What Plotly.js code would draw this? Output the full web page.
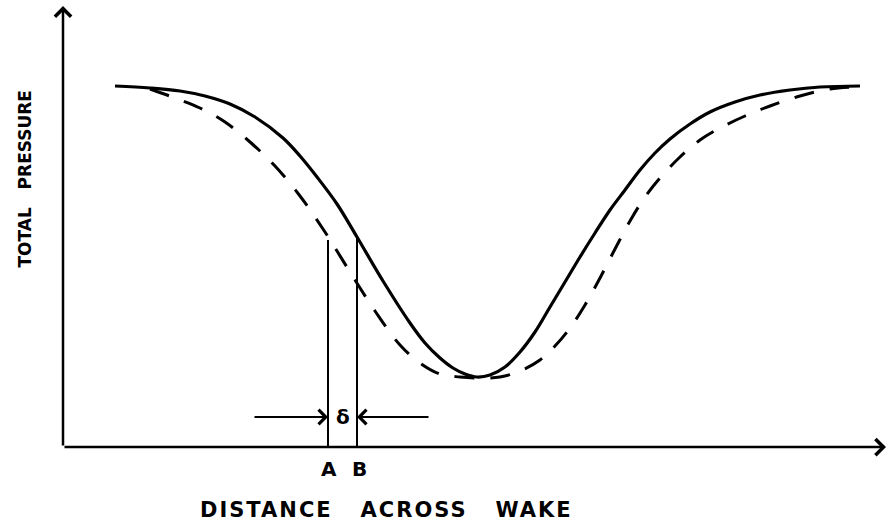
<!DOCTYPE html>
<html><head><meta charset="utf-8">
<script src="https://cdn.plot.ly/plotly-3.0.1.min.js"></script>
<style>
html,body{margin:0;padding:0;background:#fff;} #chart{width:887px;height:524px;}
.annotation[data-index="7"] text{letter-spacing:2px;}
</style>
</head><body><div id="chart"></div>
<script>
// Solid curve: total pressure profile across the wake (arbitrary units)
const solidX = [52, 87, 117, 142, 167, 192, 220, 237, 254, 274, 294, 320, 347, 362, 377, 390, 402, 414, 427, 442, 457, 472, 487, 502, 517, 532, 547, 562, 577, 592, 607, 627, 647, 672, 697, 727, 757, 797];
const solidY = [361, 359, 356, 351, 343, 330, 309, 291, 270, 243, 210, 166, 124, 104, 89, 79, 73, 70, 72, 80, 95, 115, 140, 165, 190, 214, 237, 257, 277, 294, 308, 323, 335, 345, 352, 357, 360, 361];
// Dashed curve: displaced profile
const dashX = [87, 112, 137, 162, 187, 212, 237, 262, 287, 312, 337, 357, 377, 397, 417, 437, 457, 477, 492, 507, 522, 537, 552, 567, 582, 597, 617, 637, 657, 682, 707, 737, 767, 792];
const dashY = [358, 349, 339, 325, 305, 281, 251, 215, 175, 136, 102, 84, 73, 70, 69, 70, 76, 87, 101, 119, 142, 169, 198, 226, 250, 269, 290, 307, 319, 331, 341, 351, 358, 360];
// Stations A and B
const markLabels = ['A', 'B'];
const markX = [265, 294];
const markTop = [207, 210];
// delta indicator
const deltaLabel = 'δ';
const deltaLevel = 30;
const deltaTails = [190, 367];
// axis extents
const xMax = 823, yMax = 441;
const xTitle = 'DISTANCE\u00A0\u00A0\u00A0ACROSS\u00A0\u00A0\u00A0WAKE';
const yTitle = 'TOTAL\u00A0\u00A0\u00A0PRESSURE';

const ink = '#000';
const font = (s) => ({family: 'DejaVu Sans, sans-serif', size: s, color: ink, weight: 'bold'});

const vx = [], vy = [];
markX.forEach((x, i) => { vx.push(x, x, null); vy.push(0, markTop[i], null); });

const traces = [
  {x: solidX, y: solidY, mode: 'lines', line: {color: ink, width: 3.2, shape: 'spline', smoothing: 1}, hoverinfo: 'skip'},
  {x: dashX, y: dashY, mode: 'lines', line: {color: ink, width: 3, shape: 'spline', smoothing: 1, dash: '20px,16px'}, hoverinfo: 'skip'},
  {x: vx, y: vy, mode: 'lines', line: {color: ink, width: 2}, hoverinfo: 'skip'}
];

const annotations = [
  // 0,1: axes as arrows
  {x: 0, y: yMax, ax: 0, ay: 0, xref: 'x', yref: 'y', axref: 'x', ayref: 'y', text: '', showarrow: true, arrowhead: 4, arrowsize: 1.25, arrowwidth: 2.5, arrowcolor: ink},
  {x: xMax, y: 0, ax: 0, ay: 0, xref: 'x', yref: 'y', axref: 'x', ayref: 'y', text: '', showarrow: true, arrowhead: 4, arrowsize: 1.25, arrowwidth: 2.5, arrowcolor: ink},
  // 2,3: delta arrows
  {x: markX[0], y: deltaLevel, ax: deltaTails[0], ay: deltaLevel, xref: 'x', yref: 'y', axref: 'x', ayref: 'y', text: '', showarrow: true, arrowhead: 4, arrowsize: 1.4, arrowwidth: 2, arrowcolor: ink},
  {x: markX[1], y: deltaLevel, ax: deltaTails[1], ay: deltaLevel, xref: 'x', yref: 'y', axref: 'x', ayref: 'y', text: '', showarrow: true, arrowhead: 4, arrowsize: 1.4, arrowwidth: 2, arrowcolor: ink},
  // 4: delta label
  {x: (markX[0] + markX[1]) / 2, y: deltaLevel, xref: 'x', yref: 'y', xanchor: 'center', yanchor: 'middle', text: deltaLabel, showarrow: false, font: font(20)},
  // 5,6: station labels
  {x: markX[0] + 1, y: -0.05, xref: 'x', yref: 'paper', xanchor: 'center', yanchor: 'middle', text: markLabels[0], showarrow: false, font: font(20)},
  {x: markX[1] + 2, y: -0.05, xref: 'x', yref: 'paper', xanchor: 'center', yanchor: 'middle', text: markLabels[1], showarrow: false, font: font(20)},
  // 7,8: axis titles
  {x: 0.3925, y: -0.143, xref: 'paper', yref: 'paper', xanchor: 'center', yanchor: 'middle', text: xTitle, showarrow: false, font: font(21)},
  {x: -0.0456, y: 0.6077, xref: 'paper', yref: 'paper', xanchor: 'center', yanchor: 'middle', text: yTitle, textangle: -90, showarrow: false, font: font(17)}
];

const axisBase = {showgrid: false, zeroline: false, showline: false, ticks: '', showticklabels: false, fixedrange: true};
const layout = {
  width: 887, height: 524,
  margin: {l: 63, r: 1, t: 6, b: 77},
  paper_bgcolor: '#fff', plot_bgcolor: '#fff',
  showlegend: false,
  xaxis: Object.assign({range: [0, xMax]}, axisBase),
  yaxis: Object.assign({range: [0, yMax]}, axisBase),
  annotations: annotations
};
Plotly.newPlot('chart', traces, layout, {staticPlot: true, displayModeBar: false});
</script></body></html>
